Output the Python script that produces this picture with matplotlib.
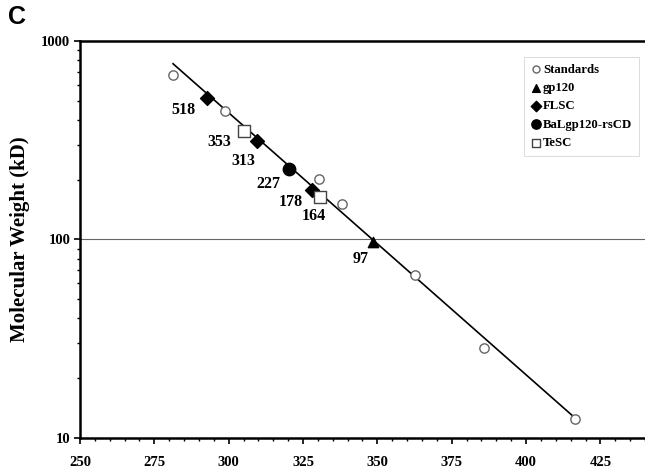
import numpy as np
import matplotlib
matplotlib.use("Agg")
import matplotlib.pyplot as plt
from matplotlib.ticker import MultipleLocator, FixedLocator, LogLocator, NullFormatter

plt.rcParams['font.family'] = ['Liberation Serif', 'DejaVu Serif']
plt.rcParams['font.weight'] = 'bold'

# data (x = migration, y = molecular weight in kD)
std_x = [281.3, 298.9, 330.4, 338.0, 362.5, 385.8, 416.5]
std_y = [674, 446, 202, 151, 66, 28.5, 12.4]
gp120_x = [348.5]
gp120_y = [97]
flsc_x = [292.6, 309.5, 327.9]
flsc_y = [518, 313, 178]
bal_x = [320.2]
bal_y = [227]
tesc_x = [305.3, 330.6]
tesc_y = [353, 164]

# fitted line through the standards
coef = np.polyfit(std_x, np.log10(std_y), 1)
line_x = np.array([min(std_x), max(std_x)])
line_y = 10 ** np.polyval(coef, line_x)

fig = plt.figure(figsize=(6.45, 4.76), dpi=100)
ax = fig.add_axes([0.124, 0.080, 0.876, 0.834])

ax.axhline(100, color='#666666', lw=0.8, zorder=1)
ax.plot(line_x, line_y, color='black', lw=1.2, zorder=2)

ax.scatter(std_x, std_y, s=45, facecolors='white', edgecolors='#666666',
           linewidths=1.0, marker='o', label='Standards', zorder=3)
ax.scatter(gp120_x, gp120_y, s=55, color='black', marker='^', label='gp120', zorder=3)
ax.scatter(flsc_x, flsc_y, s=50, color='black', marker='D', label='FLSC', zorder=3)
ax.scatter(bal_x, bal_y, s=80, color='black', marker='o', label='BaLgp120-rsCD', zorder=3)
ax.scatter(tesc_x, tesc_y, s=70, facecolors='white', edgecolors='#444444',
           linewidths=1.0, marker='s', label='TeSC', zorder=3)

# labels next to the sample points (order: FLSC, TeSC, BaL, gp120)
lab_x = flsc_x + tesc_x + bal_x + gp120_x
lab_y = flsc_y + tesc_y + bal_y + gp120_y
offsets = [(-17, -9), (-10, -14), (-15, -9), (-18, -8), (-4, -14), (-15, -11), (-9, -12)]
for x, y, off in zip(lab_x, lab_y, offsets):
    ax.annotate(str(y), (x, y), xytext=off, textcoords='offset points',
                ha='center', va='center', fontsize=11.5, fontweight='bold')

ax.set_yscale('log')
ax.set_ylim(10, 1000)
ax.set_xlim(250, 440)
ax.xaxis.set_major_locator(FixedLocator([250, 275, 300, 325, 350, 375, 400, 425]))
ax.xaxis.set_minor_locator(MultipleLocator(5))
ax.yaxis.set_major_locator(FixedLocator([10, 100, 1000]))
ax.yaxis.set_minor_locator(LogLocator(base=10, subs=np.arange(2, 10)))
ax.yaxis.set_minor_formatter(NullFormatter())
ax.set_yticklabels(['10', '100', '1000'])

ax.tick_params(axis='both', which='major', labelsize=10.5, length=4, width=1.2, direction='out')
ax.tick_params(axis='both', which='minor', length=2.5, width=1.0, direction='out')
ax.tick_params(axis='x', pad=9)
ax.tick_params(axis='y', pad=3)
for t in ax.get_xticklabels() + ax.get_yticklabels():
    t.set_fontweight('bold')

for s in ['left', 'bottom', 'top']:
    ax.spines[s].set_linewidth(1.8)
ax.spines['right'].set_visible(False)

ax.set_ylabel('Molecular Weight (kD)', fontsize=15, fontweight='bold', labelpad=8)

leg = ax.legend(loc='upper right', bbox_to_anchor=(1.0, 0.975),
                frameon=True, fancybox=False, handletextpad=0.1,
                handlelength=0.9, borderpad=0.5, labelspacing=0.5,
                markerscale=0.75, prop={'weight': 'bold', 'size': 9.2})
leg.get_frame().set_edgecolor('#cccccc')
leg.get_frame().set_linewidth(0.6)

fig.text(0.012, 0.99, 'C', fontsize=18, fontweight='bold', va='top', ha='left',
         family='Liberation Sans')

fig.savefig('out.png', dpi=100)
